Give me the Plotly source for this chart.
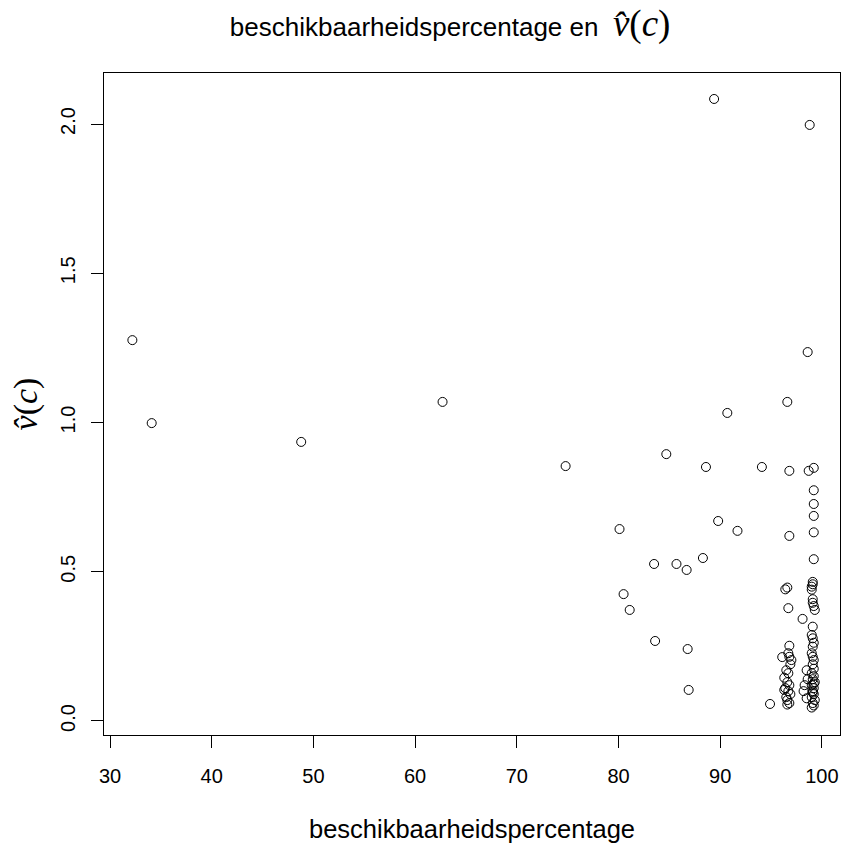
import plotly.graph_objects as go

# Availability percentage (x) against the estimated value v̂(c) (y)
beschikbaarheid = [
    32.2, 34.1, 48.8, 62.7, 74.8, 80.1, 80.5, 81.1, 83.5, 83.6,
    84.7, 85.7, 86.7, 86.8, 86.9, 88.3, 88.6, 89.8, 90.7, 91.7,
    89.4, 94.1, 94.9, 96.6, 96.8, 96.8, 98.6, 98.8, 98.7, 99.2,
    # column near 99 %
    99.2, 99.2, 99.2, 99.2, 99.2, 99.1, 99.1, 99.0, 99.0, 99.1,
    99.1, 99.2, 99.3, 99.1, 99.0, 99.1, 99.2, 99.1, 99.0, 99.1,
    99.2, 99.1, 99.2, 99.0, 99.2, 99.1, 99.3, 99.0, 99.2, 99.1,
    99.2, 99.0, 99.3, 99.1, 99.2, 99.0, 99.2, 99.1,
    # column near 98.5 %
    98.5, 98.3, 98.5, 98.2, 98.6,
    # column near 96.5 %
    96.6, 96.4, 96.7, 96.8, 98.1, 96.7, 96.1, 96.8, 97.0, 96.9,
    96.5, 96.7, 96.3, 96.6, 96.8, 96.4, 96.7, 96.9, 96.5, 96.6,
    96.3, 96.8, 96.6,
]
v_hat = [
    1.276, 0.998, 0.935, 1.069, 0.854, 0.643, 0.425, 0.372, 0.526, 0.268,
    0.894, 0.526, 0.506, 0.241, 0.104, 0.546, 0.851, 0.670, 1.032, 0.637,
    2.084, 0.851, 0.057, 1.069, 0.838, 0.620, 1.236, 1.997, 0.838, 0.848,
    0.773, 0.727, 0.687, 0.632, 0.542, 0.466, 0.458, 0.450, 0.440, 0.408,
    0.396, 0.385, 0.372, 0.316, 0.288, 0.277, 0.262, 0.249, 0.227, 0.215,
    0.204, 0.190, 0.175, 0.160, 0.150, 0.140, 0.130, 0.120, 0.110, 0.100,
    0.090, 0.080, 0.070, 0.060, 0.052, 0.045, 0.125, 0.095,
    0.170, 0.120, 0.076, 0.100, 0.140,
    0.447, 0.441, 0.378, 0.252, 0.342, 0.227, 0.214, 0.215, 0.204, 0.190,
    0.170, 0.160, 0.145, 0.130, 0.120, 0.110, 0.100, 0.090, 0.080, 0.070,
    0.104, 0.060, 0.055,
]

x_ticks = [30, 40, 50, 60, 70, 80, 90, 100]
y_ticks = [0.0, 0.5, 1.0, 1.5, 2.0]
y_tick_labels = ["0.0", "0.5", "1.0", "1.5", "2.0"]

label_font = "Liberation Sans, Arial, sans-serif"
math_font = "Liberation Serif, DejaVu Serif, serif"


def v_label(size):
    return (f"<span style='font-family:{math_font};font-size:{size}px'>"
            "<i>v&#770;</i>(<i>c</i>)</span>")


fig = go.Figure(
    go.Scatter(
        x=beschikbaarheid,
        y=v_hat,
        mode="markers",
        marker=dict(
            symbol="circle-open",
            size=9,
            color="black",
            line=dict(width=1, color="black"),
        ),
        hoverinfo="x+y",
    )
)

axis_common = dict(
    showgrid=False,
    zeroline=False,
    showline=True,
    mirror=True,
    linecolor="black",
    linewidth=1,
    ticks="outside",
    ticklen=12,
    tickcolor="black",
    tickwidth=1,
    tickfont=dict(family=label_font, size=20, color="black"),
)

fig.update_layout(
    width=843,
    height=847,
    paper_bgcolor="white",
    plot_bgcolor="white",
    margin=dict(l=104, r=3, t=73, b=112),
    showlegend=False,
    title=dict(
        text=f"beschikbaarheidspercentage en  {v_label(37)}",
        font=dict(family=label_font, size=26, color="black"),
        x=0.534,
        xanchor="center",
        y=0.968,
        yanchor="middle",
    ),
    xaxis=dict(
        **axis_common,
        range=[29.41, 101.78],
        tickvals=x_ticks,
        ticktext=[str(t) for t in x_ticks],
        ticklabelstandoff=11,
        title=dict(
            text="beschikbaarheidspercentage",
            font=dict(family=label_font, size=25.5, color="black"),
            standoff=34,
        ),
    ),
    yaxis=dict(
        **axis_common,
        range=[-0.047, 2.171],
        tickvals=y_ticks,
        ticktext=y_tick_labels,
        tickangle=-90,
        ticklabelstandoff=8,
        title=dict(
            text=v_label(34),
            font=dict(size=34, color="black"),
            standoff=9,
        ),
    ),
)

fig.write_html("out.html")
